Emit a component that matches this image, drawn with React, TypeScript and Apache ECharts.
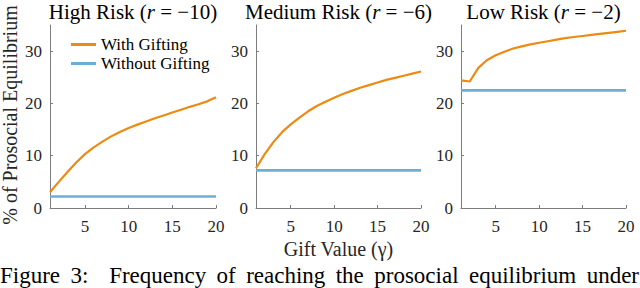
import React, { useEffect, useRef } from "react";
import * as echarts from "echarts";

// ---- data ----
const gamma = [1, 2, 3, 4, 5, 6, 7, 8, 9, 10, 11, 12, 13, 14, 15, 16, 17, 18, 19, 20];
const baselineGamma = [1, 20];

const highWith = [3.0, 5.0, 6.9, 8.7, 10.3, 11.6, 12.7, 13.7, 14.55, 15.3, 15.95, 16.55, 17.15, 17.7, 18.25, 18.8, 19.35, 19.85, 20.4, 21.2];
const highWithout = [2.2, 2.2];
const mediumWith = [7.6, 10.3, 12.6, 14.5, 16.0, 17.3, 18.5, 19.5, 20.3, 21.1, 21.8, 22.4, 23.0, 23.5, 24.0, 24.5, 24.9, 25.3, 25.7, 26.1];
const mediumWithout = [7.2, 7.2];
const lowWith = [24.4, 24.2, 26.8, 28.3, 29.2, 29.9, 30.5, 30.9, 31.3, 31.6, 31.9, 32.2, 32.5, 32.7, 32.9, 33.1, 33.3, 33.5, 33.7, 33.9];
const lowWithout = [22.5, 22.5];

const panelNames = ["High Risk", "Medium Risk", "Low Risk"];
const riskValues = ["−10", "−6", "−2"];
const yTicks = [0, 10, 20, 30];
const xTicks = [5, 10, 15, 20];
const legendNames = ["With Gifting", "Without Gifting"];
const yAxisTitle = "% of Prosocial Equilibrium";
const xAxisTitle = "Gift Value (γ)";
const captionWords = ["Figure", "3:", "Frequency", "of", "reaching", "the", "prosocial", "equilibrium", "under"];

const FONT = "Liberation Serif";
const ORANGE = "#EE8A12";
const BLUE = "#6BAED8";

function measure(text: string, size: number): number {
  const c = document.createElement("canvas").getContext("2d");
  if (!c) return text.length * size * 0.45;
  c.font = `${size}px "Liberation Serif"`;
  return c.measureText(text).width;
}

export default function App() {
  const ref = useRef<HTMLDivElement>(null);
  useEffect(() => {
    if (!ref.current) return;
    const chart = echarts.init(ref.current, undefined, { renderer: "svg" });
    const withData = [highWith, mediumWith, lowWith];
    const withoutData = [highWithout, mediumWithout, lowWithout];
    const grids = [
      { left: 50, top: 25, width: 166, height: 183 },
      { left: 256, top: 25, width: 165, height: 183 },
      { left: 461, top: 25, width: 165, height: 183 },
    ];
    const axisColor = "#7d7d7d";
    const axisLine = { show: true, lineStyle: { color: axisColor, width: 1 } };
    const xAxes = grids.map((_, i) => ({
      type: "value",
      gridIndex: i,
      min: 1,
      max: 20,
      axisLine,
      axisTick: { show: true, inside: true, length: 3, customValues: xTicks, lineStyle: { color: axisColor } },
      axisLabel: { customValues: xTicks, fontFamily: FONT, fontSize: 17, color: "#262626", margin: 10 },
      splitLine: { show: false },
    }));
    const yAxes = grids.map((_, i) => ({
      type: "value",
      gridIndex: i,
      min: 0,
      max: 35,
      axisLine,
      axisTick: { show: true, inside: true, length: 3, customValues: yTicks, lineStyle: { color: axisColor } },
      axisLabel: { customValues: yTicks, fontFamily: FONT, fontSize: 17, color: "#262626", margin: 8 },
      splitLine: { show: false },
    }));
    const series: any[] = [];
    for (let i = 0; i < 3; i++) {
      series.push({
        type: "line",
        name: legendNames[1],
        xAxisIndex: i,
        yAxisIndex: i,
        data: baselineGamma.map((g, k) => [g, withoutData[i][k]]),
        symbol: "none",
        lineStyle: { color: BLUE, width: 2.6 },
        itemStyle: { color: BLUE },
        z: 2,
      });
      series.push({
        type: "line",
        name: legendNames[0],
        xAxisIndex: i,
        yAxisIndex: i,
        data: gamma.map((g, k) => [g, withData[i][k]]),
        symbol: "none",
        lineStyle: { color: ORANGE, width: 2.2 },
        itemStyle: { color: ORANGE },
        z: 3,
      });
    }
    const centers = grids.map((g) => g.left + g.width / 2);
    const titleTexts = panelNames.map((n, i) => ({
      type: "text",
      x: centers[i],
      y: 12,
      style: {
        text: `{a|${n} (}{i|r}{a| = ${riskValues[i]})}`,
        align: "center",
        verticalAlign: "middle",
        rich: {
          a: { fontFamily: FONT, fontSize: 21, fill: "#000" },
          i: { fontFamily: FONT, fontSize: 21, fontStyle: "italic", fill: "#000" },
        },
      },
    }));

    // caption line justified across the full width
    const capSize = 23;
    const widths = captionWords.map((w) => measure(w, capSize));
    const total = widths.reduce((a, b) => a + b, 0);
    const gaps = captionWords.length; // one extra gap after "3:"
    const gap = Math.max(3, (639 - total) / gaps);
    let cx = 0;
    const captionTexts = captionWords.map((w, k) => {
      const t = {
        type: "text",
        x: cx,
        y: 275.5,
        style: { text: w, align: "left", verticalAlign: "middle", fontFamily: FONT, fontSize: capSize, fill: "#000" },
      };
      cx += widths[k] + gap * (k === 1 ? 2 : 1);
      return t;
    });

    chart.setOption({
      animation: false,
      backgroundColor: "#fff",
      textStyle: { fontFamily: FONT },
      grid: grids,
      xAxis: xAxes,
      yAxis: yAxes,
      legend: {
        data: legendNames,
        orient: "vertical",
        left: 66,
        top: 31,
        icon: "rect",
        itemWidth: 25,
        itemHeight: 3,
        itemGap: 2,
        textStyle: { fontFamily: FONT, fontSize: 17, color: "#000", lineHeight: 17 },
      },
      series,
      graphic: [
        ...titleTexts,
        {
          type: "text",
          x: 10,
          y: 115,
          rotation: Math.PI / 2,
          style: { text: yAxisTitle, align: "center", verticalAlign: "middle", fontFamily: FONT, fontSize: 20, fill: "#262626" },
        },
        {
          type: "text",
          x: centers[1],
          y: 249,
          style: { text: xAxisTitle, align: "center", verticalAlign: "middle", fontFamily: FONT, fontSize: 20, fill: "#262626" },
        },
        ...captionTexts,
      ],
    });
    return () => chart.dispose();
  }, []);
  return <div ref={ref} style={{ position: "fixed", left: 0, top: 0, width: 640, height: 288 }} />;
}
